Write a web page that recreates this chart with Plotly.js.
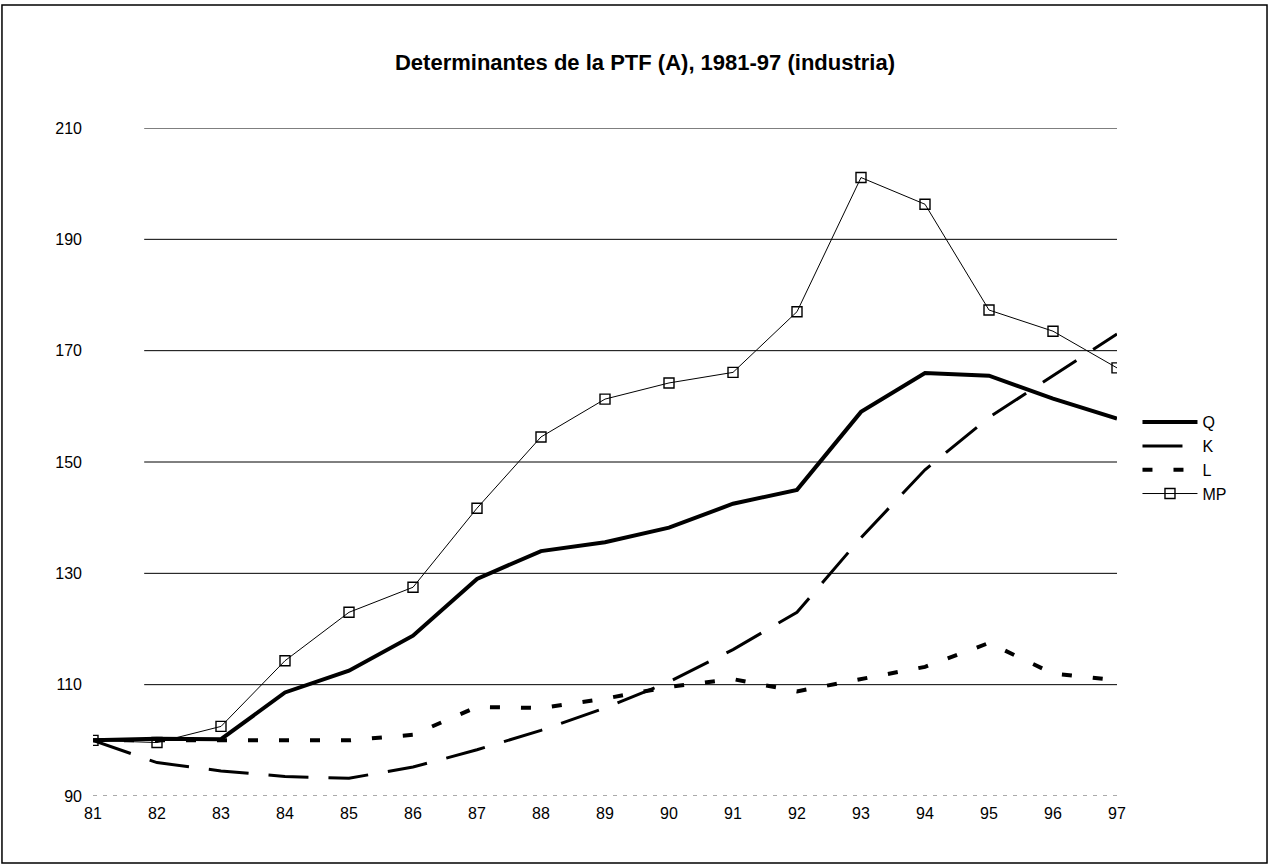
<!DOCTYPE html>
<html><head><meta charset="utf-8">
<script src="https://cdn.plot.ly/plotly-3.0.1.min.js"></script>
<style>body{margin:0;background:#fff}#c{width:1270px;height:866px}</style>
</head><body><div id="c"></div>
<script>
const years = ['81','82','83','84','85','86','87','88','89','90','91','92','93','94','95','96','97'];
const Q  = [100,100.3,100.2,108.6,112.5,118.8,129,134,135.6,138.2,142.5,145,159,166,165.5,161.4,157.8];
const K  = [100,96,94.5,93.5,93.2,95.2,98.3,101.8,105.8,110.5,116.3,123,136.4,148.6,158,165.5,173];
const L  = [100,100,100,100,100,101,106,105.8,107.5,109.6,111,108.8,111,113.2,117.5,112,110.8];
const MP = [100,99.6,102.5,114.3,123,127.5,141.7,154.5,161.3,164.2,166.1,177,201.1,196.3,177.3,173.5,166.9];
const yTicks = [90,110,130,150,170,190,210];

const xs = years.map((_, i) => 81 + i);
const traces = [
  {x: xs, y: Q, name: 'Q', mode: 'lines', line: {color: '#000', width: 4}},
  {x: xs, y: K, name: 'K', mode: 'lines', line: {color: '#000', width: 3, dash: '40px,20px'}},
  {x: xs, y: L, name: 'L', mode: 'lines', line: {color: '#000', width: 4, dash: '10px,21px'}},
  {x: xs, y: MP, name: 'MP', mode: 'lines+markers', line: {color: '#000', width: 1},
   marker: {symbol: 'square-open', size: 10, color: '#000', line: {width: 1.4, color: '#000'}}}
];
const gridShapes = yTicks.map(v => ({
  type: 'line', xref: 'paper', yref: 'y', x0: v === 90 ? 0.0 : 0.05, x1: 1.0, y0: v, y1: v, layer: 'below',
  line: v === 90 ? {color: '#555', width: 1, dash: '4px,6px'} : {color: '#000', width: 1}
}));
const layout = {
  width: 1270, height: 866,
  margin: {l: 93, r: 153, t: 128, b: 70},
  paper_bgcolor: '#fff', plot_bgcolor: '#fff',
  font: {family: 'Liberation Sans, Arial, sans-serif', color: '#000', size: 16},
  title: {text: '<b>Determinantes de la PTF (A), 1981-97 (industria)</b>', font: {size: 22, color: '#000'},
          x: 645/1270, xref: 'container', xanchor: 'center', y: 1 - 62/866, yanchor: 'middle'},
  xaxis: {range: [81, 97], tickvals: xs, ticktext: years, showgrid: false, zeroline: false,
          showline: false, ticks: '', tickfont: {size: 16}, ticklabelstandoff: 6},
  yaxis: {range: [90, 210], tickvals: yTicks, ticktext: yTicks.map(String), showgrid: false,
          zeroline: false, showline: false, ticks: '',
          tickfont: {size: 16}, ticklabelstandoff: 10},
  showlegend: true,
  legend: {x: 1.02, xanchor: 'left', y: 0.585, yanchor: 'top', bgcolor: 'rgba(0,0,0,0)',
           font: {size: 16}, itemwidth: 55, tracegroupgap: 0},
  shapes: gridShapes.concat([{type: 'rect', xref: 'paper', yref: 'paper', x0: -0.0889, x1: 1.1465, y0: -0.1003, y1: 1.184,
            line: {color: '#000', width: 1.5}}])
};
Plotly.newPlot('c', traces, layout, {staticPlot: true, displayModeBar: false});
</script></body></html>
